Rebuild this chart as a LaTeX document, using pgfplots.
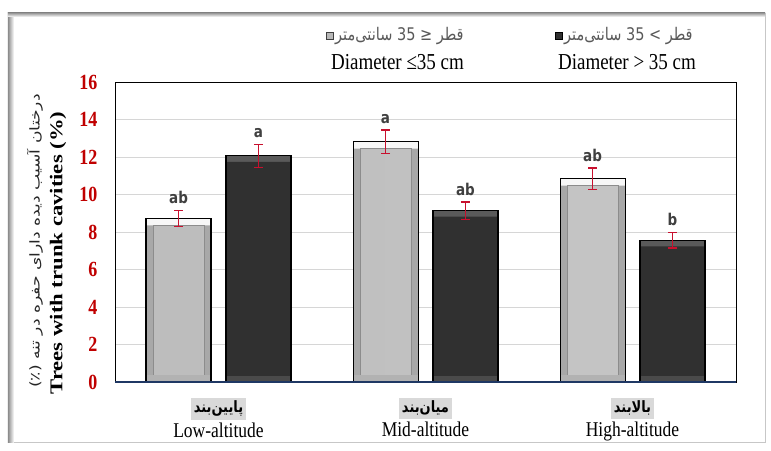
\documentclass[border=0pt]{standalone}
\usepackage{fontspec}
\usepackage{graphicx}
\usepackage{pgfplots}
\usepackage{pgfplotstable}
\pgfplotsset{compat=1.18}
\TeXXeTstate=1
\setmainfont{Liberation Serif}
\newfontfamily\fa[Script=Arabic]{DejaVu Sans}
\newfontfamily\lbl{DejaVu Sans}
\definecolor{tickred}{HTML}{C00000}
\definecolor{errred}{HTML}{C8102E}
\definecolor{axisnavy}{HTML}{1F3864}
\definecolor{lettergray}{HTML}{404040}
\definecolor{legfa}{HTML}{595959}
\definecolor{darkfill}{HTML}{303030}
\definecolor{darktop}{HTML}{5A5A5A}
\definecolor{darkbottom}{HTML}{4A4A4A}
\newcommand\vs[1]{\scalebox{1}[1.2]{#1}}

% share of trees with trunk cavities, mean and standard error
\pgfplotstableread{
x y err lab
0 8.72 0.42 ab
1 12.82 0.62 a
2 10.84 0.58 ab
}\smalldiam
\pgfplotstableread{
x y err lab
0 12.06 0.62 a
1 9.14 0.46 ab
2 7.56 0.42 b
}\largediam

% bar geometry: width and offset in x units, bevel depth in y units
\def\bw{0.314}
\def\bs{0.193}
\def\bevel{0.373}
\def\dbevel{0.32}

\pgfplotsset{
  layer/.style={ybar, bar shift=0pt, draw=none},
  letters/.style={draw=none, mark=none, nodes near coords, point meta=explicit symbolic,
    nodes near coords={\vs{\pgfplotspointmeta}},
    nodes near coords style={anchor=south, yshift=3pt, text=lettergray,
      font=\lbl\bfseries\fontsize{13.5}{15}\selectfont}},
}

\begin{document}
\begin{tikzpicture}
\path[use as bounding box] (-115pt,-68pt) rectangle (656pt,382pt);
% framed background with a soft shadow on the top and left edges
\draw[black!22, line width=0.8pt] (-107pt,-60pt) rectangle (650pt,369pt);
\fill[left color=black!45, right color=white] (-107pt,-60pt) rectangle (-101pt,369pt);
\fill[top color=black!40, bottom color=white] (-107pt,365pt) rectangle (650pt,369pt);

\begin{axis}[
  at={(0pt,0pt)}, anchor=south west,
  scale only axis, width=621pt, height=300pt,
  xmin=-0.5, xmax=2.5, ymin=0, ymax=16,
  ytick={0,2,...,16}, xtick={0,1,2},
  major tick length=0pt,
  ymajorgrids, grid style={black!16, line width=0.9pt},
  axis line style={black, line width=0.8pt},
  yticklabel={\vs{\bfseries\pgfmathprintnumber[assume math mode=true]{\tick}}},
  yticklabel style={text=tickred, font=\fontsize{18}{20}\selectfont, xshift=-14pt},
  xticklabels={
    {\vs{\colorbox{black!15}{\fa\bfseries\fontsize{13}{14}\selectfont\beginR پایین‌بند\endR}}\\[2pt]\vs{Low-altitude}},
    {\vs{\colorbox{black!15}{\fa\bfseries\fontsize{13}{14}\selectfont\beginR میان‌بند\endR}}\\[2pt]\vs{Mid-altitude}},
    {\vs{\colorbox{black!15}{\fa\bfseries\fontsize{13}{14}\selectfont\beginR بالابند\endR}}\\[2pt]\vs{High-altitude}}},
  xticklabel style={align=center, font=\fontsize{17.5}{19}\selectfont, yshift=-12pt},
  error bars/error bar style={errred, line width=1.3pt},
  error bars/error mark options={errred, line width=1.3pt, mark size=4.5pt, rotate=90},
]
% --- diameter <= 35 cm: light bevelled bars
\addplot[layer, bar width=\bw, fill=black!3]
  table[x expr=\thisrow{x}-\bs, y=y] {\smalldiam};
\addplot[layer, bar width=\bw, fill=black!34]
  table[x expr=\thisrow{x}-\bs, y expr=\thisrow{y}-\bevel] {\smalldiam};
\addplot[ybar, bar shift=0pt, bar width=\bw-0.068, draw=black!45, line width=0.6pt,
  left color=black!26, middle color=black!16, right color=black!23]
  table[x expr=\thisrow{x}-\bs, y expr=\thisrow{y}-\bevel] {\smalldiam};
\addplot[layer, bar width=\bw, fill=black!30]
  table[x expr=\thisrow{x}-\bs, y expr=\bevel] {\smalldiam};
\addplot[ybar, bar shift=0pt, bar width=\bw, draw=black, fill=none, line width=1.1pt,
  error bars/.cd, y dir=both, y explicit]
  table[x expr=\thisrow{x}-\bs, y=y, y error=err] {\smalldiam};
% --- diameter > 35 cm: dark bevelled bars
\addplot[layer, bar width=\bw, fill=darktop]
  table[x expr=\thisrow{x}+\bs, y=y] {\largediam};
\addplot[layer, bar width=\bw, fill=darkfill]
  table[x expr=\thisrow{x}+\bs, y expr=\thisrow{y}-\dbevel] {\largediam};
\addplot[layer, bar width=\bw, fill=darkbottom]
  table[x expr=\thisrow{x}+\bs, y expr=\dbevel] {\largediam};
\addplot[ybar, bar shift=0pt, bar width=\bw, draw=black, fill=none, line width=1.1pt,
  error bars/.cd, y dir=both, y explicit]
  table[x expr=\thisrow{x}+\bs, y=y, y error=err] {\largediam};
% significance letters above the error bars
\addplot[letters] table[x expr=\thisrow{x}-\bs, y expr=\thisrow{y}+\thisrow{err}, meta=lab] {\smalldiam};
\addplot[letters] table[x expr=\thisrow{x}+\bs, y expr=\thisrow{y}+\thisrow{err}, meta=lab] {\largediam};
\draw[axisnavy, line width=1.4pt] (rel axis cs:0,0) -- (rel axis cs:1,0);
\end{axis}

% axis title in Persian and English
\node[rotate=90, text=black!85, font=\fa\fontsize{13.5}{15}\selectfont] at (-80pt,141pt)
  {\scalebox{1.27}[1]{\beginR درختان آسیب دیده دارای حفره در تنه (٪)\endR}};
\node[rotate=90, font=\bfseries\fontsize{18}{20}\selectfont] at (-57pt,129pt)
  {\scalebox{1.26}[1]{Trees with trunk cavities (\%)}};

% legend
\node[draw=black!75, fill=black!28, line width=0.8pt, minimum size=7pt, inner sep=0pt] at (215pt,346pt) {};
\node[anchor=west, text=legfa, font=\fa\fontsize{14.5}{16}\selectfont, inner sep=1pt] at (219pt,346pt)
  {\scalebox{1}[1.2]{\beginR قطر ^^^^200f≤ 35 سانتی‌متر\endR}};
\node[font=\fontsize{19}{21}\selectfont] at (282.5pt,320pt) {\vs{Diameter ≤35 cm}};
\node[draw=black, fill=darkfill, line width=0.8pt, minimum size=7pt, inner sep=0pt] at (444pt,346pt) {};
\node[anchor=west, text=legfa, font=\fa\fontsize{14.5}{16}\selectfont, inner sep=1pt] at (448pt,346pt)
  {\scalebox{1}[1.2]{\beginR قطر ^^^^200f> 35 سانتی‌متر\endR}};
\node[font=\fontsize{19}{21}\selectfont] at (512pt,320pt) {\vs{Diameter > 35 cm}};
\end{tikzpicture}
\end{document}
